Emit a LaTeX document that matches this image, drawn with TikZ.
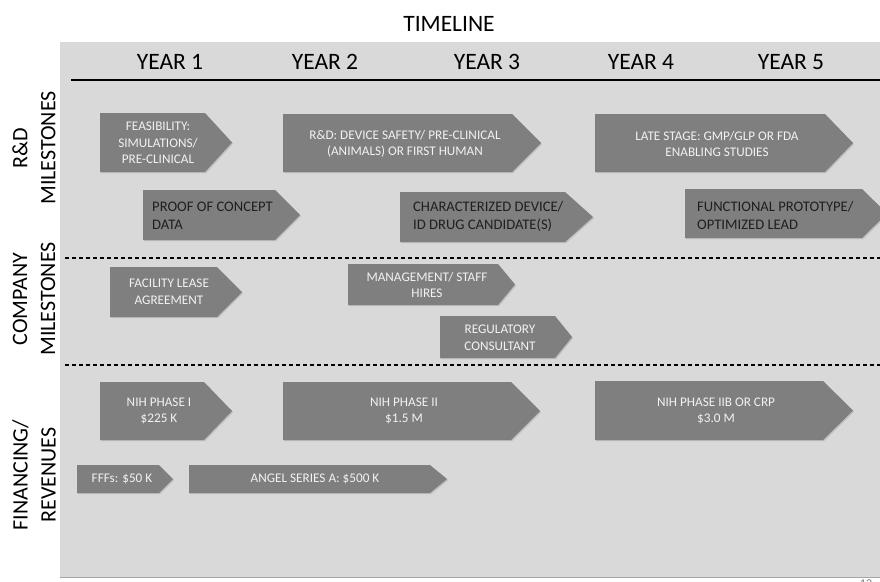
\documentclass[tikz,border=0pt]{standalone}
\usepackage{fontspec}
\setmainfont{Carlito}
\usetikzlibrary{shadows}
\definecolor{panelgray}{HTML}{D9D9D9}
\definecolor{plategray}{HTML}{7F7F7F}
\definecolor{platetext}{HTML}{F2F2F2}

\begin{document}
\begin{tikzpicture}[x=1pt,y=-1pt,
  plate/.style={fill=plategray,drop shadow={shadow xshift=1pt,shadow yshift=-1.2pt,opacity=0.3}},
  whitetxt/.style={text=platetext,align=center,inner sep=0pt,font=\fontsize{13.2}{16.5}\selectfont},
  darktxt/.style={text=black!88,align=left,anchor=west,inner sep=0pt,font=\fontsize{14.6}{18}\selectfont},
  head/.style={inner sep=0pt,font=\fontsize{23.5}{26}\selectfont},
  sidelab/.style={rotate=90,align=center,inner sep=0pt,font=\fontsize{22}{28}\selectfont},
  sep/.style={line width=1.2pt,dash pattern=on 4pt off 3pt}]
\useasboundingbox (0,0) rectangle (880,581);
% panel and timeline
\fill[panelgray] (60,42) rectangle (885,578);
\draw[gray!70,line width=1pt] (60,577.5) -- (885,577.5);
\node[head] (timeline) at (449,24) {TIMELINE};
\node[head] (y1) at (170,62) {YEAR 1};
\node[head] (y2) at (325,62) {YEAR 2};
\node[head] (y3) at (487,62) {YEAR 3};
\node[head] (y4) at (641,62) {YEAR 4};
\node[head] (y5) at (791,62) {YEAR 5};
\draw[line width=2.4pt] (71,80) -- (885,80);
% row labels and separators
\node[sidelab] (rdlab) at (34,148) {R\&D\\MILESTONES};
\node[sidelab] (colab) at (34,299) {COMPANY\\MILESTONES};
\node[sidelab] (finlab) at (34,475) {FINANCING/\\REVENUES};
\draw[sep] (65,258) -- (885,258);
\draw[sep] (65,365) -- (885,365);
% R&D milestones
\fill[plate] (100,113) -- (205,113) -- (232,142.5) -- (205,172) -- (100,172) -- cycle;
\node[whitetxt] (feas) at (158,143) {FEASIBILITY:\\SIMULATIONS/\\PRE-CLINICAL};
\fill[plate] (283,114) -- (512,114) -- (541,143) -- (512,172) -- (283,172) -- cycle;
\node[whitetxt] (safety) at (405,144) {R\&D: DEVICE SAFETY/ PRE-CLINICAL\\(ANIMALS) OR FIRST HUMAN};
\fill[plate] (595,114) -- (825,114) -- (853,143) -- (825,172) -- (595,172) -- cycle;
\node[whitetxt] (late) at (717,144) {LATE STAGE: GMP/GLP OR FDA\\ENABLING STUDIES};
\fill[plate] (143,190) -- (275,190) -- (300,215) -- (275,240) -- (143,240) -- cycle;
\node[darktxt] (poc) at (152,216) {PROOF OF CONCEPT\\DATA};
\fill[plate] (400,192) -- (565,192) -- (593,217) -- (565,242) -- (400,242) -- cycle;
\node[darktxt] (charac) at (413,216) {CHARACTERIZED DEVICE/\\ID DRUG CANDIDATE(S)};
\fill[plate] (685,189) -- (862,189) -- (887,213.5) -- (862,238) -- (685,238) -- cycle;
\node[darktxt] (proto) at (697,215) {FUNCTIONAL PROTOTYPE/\\OPTIMIZED LEAD};
% company milestones
\fill[plate] (110,267) -- (217,267) -- (242,292) -- (217,317) -- (110,317) -- cycle;
\node[whitetxt] (lease) at (169,292) {FACILITY LEASE\\AGREEMENT};
\fill[plate] (348,264) -- (498,264) -- (515,284.5) -- (498,305) -- (348,305) -- cycle;
\node[whitetxt] (hires) at (427,285) {MANAGEMENT/ STAFF\\HIRES};
\fill[plate] (440,316) -- (555,316) -- (572,337) -- (555,358) -- (440,358) -- cycle;
\node[whitetxt] (consult) at (500,338) {REGULATORY\\CONSULTANT};
% financing / revenues
\fill[plate] (100,382) -- (204,382) -- (232,411) -- (204,440) -- (100,440) -- cycle;
\node[whitetxt] (nih1) at (159,411) {NIH PHASE I\\\$225 K};
\fill[plate] (283,382) -- (511,382) -- (540,411) -- (511,440) -- (283,440) -- cycle;
\node[whitetxt] (nih2) at (404,411) {NIH PHASE II\\\$1.5 M};
\fill[plate] (595,381) -- (823,381) -- (853,410.5) -- (823,440) -- (595,440) -- cycle;
\node[whitetxt] (nih3) at (716,411) {NIH PHASE IIB OR CRP\\\$3.0 M};
\fill[plate] (77,465) -- (159,465) -- (173,479) -- (159,493) -- (77,493) -- cycle;
\node[whitetxt] (fff) at (122,479) {FFFs: \$50 K};
\fill[plate] (189,465) -- (430,465) -- (447,479) -- (430,493) -- (189,493) -- cycle;
\node[whitetxt] (angel) at (315,479) {ANGEL SERIES A: \$500 K};
% page number, cut by the page edge
\node[text=gray,font=\fontsize{12}{14}\selectfont,inner sep=0pt] (pgno) at (866,584) {12};
\end{tikzpicture}
\end{document}
